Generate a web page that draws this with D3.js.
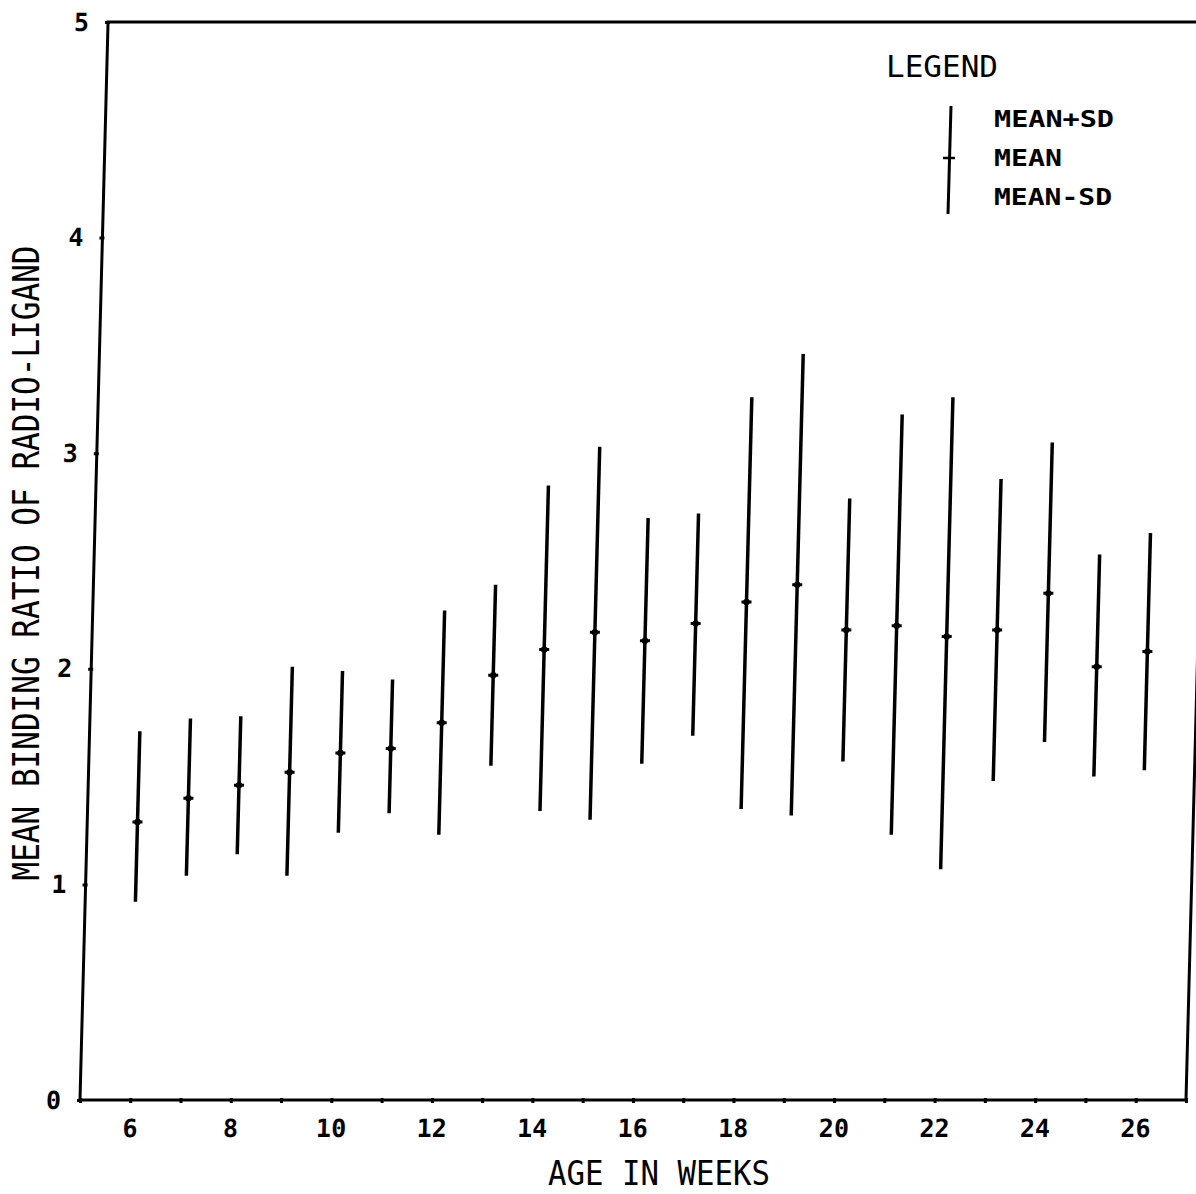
<!DOCTYPE html>
<html>
<head>
<meta charset="utf-8">
<script src="https://cdn.jsdelivr.net/npm/d3@7"></script>
<style>
  body { margin: 0; background: #fff; }
  text { font-family: "DejaVu Sans Mono", monospace; fill: #000; }
</style>
</head>
<body>
<div id="chart"></div>
<script>
// data (age in weeks, mean and mean +/- SD)
var weeks = [6, 7, 8, 9, 10, 11, 12, 13, 14, 15, 16, 17, 18, 19, 20, 21, 22, 23, 24, 25, 26];
var meanVals  = [1.29, 1.40, 1.46, 1.52, 1.61, 1.63, 1.75, 1.97, 2.09, 2.17, 2.13, 2.21, 2.31, 2.39, 2.18, 2.20, 2.15, 2.18, 2.35, 2.01, 2.08];
var upperVals = [1.71, 1.77, 1.78, 2.01, 1.99, 1.95, 2.27, 2.39, 2.85, 3.03, 2.70, 2.72, 3.26, 3.46, 2.79, 3.18, 3.26, 2.88, 3.05, 2.53, 2.63];
var lowerVals = [0.92, 1.04, 1.14, 1.04, 1.24, 1.33, 1.23, 1.55, 1.34, 1.30, 1.56, 1.69, 1.35, 1.32, 1.57, 1.23, 1.07, 1.48, 1.66, 1.50, 1.53];

var xTicks = [5, 6, 7, 8, 9, 10, 11, 12, 13, 14, 15, 16, 17, 18, 19, 20, 21, 22, 23, 24, 25, 26, 27];
var xLabels = [6, 8, 10, 12, 14, 16, 18, 20, 22, 24, 26];
var yTicks = [0, 1, 2, 3, 4, 5];

var legendItems = ["MEAN+SD", "MEAN", "MEAN-SD"];

var width = 1196, height = 1194;

var svg = d3.select("#chart").append("svg")
    .attr("width", width)
    .attr("height", height);

// set the ranges
var x = d3.scaleLinear().domain([5, 27]).range([80, 1186]);
var y = d3.scaleLinear().domain([0, 5]).range([1100, 22]);

// the scanned plot leans a little, skew around the bottom axis
var plot = svg.append("g")
    .attr("transform", "translate(0," + y(0) + ") skewX(-1.49) translate(0," + (-y(0)) + ")");

// frame
plot.append("rect")
    .attr("x", x(5))
    .attr("y", y(5))
    .attr("width", x(27) - x(5))
    .attr("height", y(0) - y(5))
    .attr("fill", "none")
    .attr("stroke", "#000")
    .attr("stroke-width", 3);

// x axis
var xAxis = plot.append("g")
    .attr("transform", "translate(0," + (y(0) + 2) + ")")
    .call(d3.axisBottom(x)
        .tickValues(xTicks)
        .tickSize(5)
        .tickPadding(12)
        .tickFormat(function(d) { return xLabels.indexOf(d) >= 0 ? d : ""; }));
xAxis.select(".domain").remove();
xAxis.selectAll(".tick line").attr("stroke-width", 3).attr("transform", "translate(0,-4)");
xAxis.selectAll(".tick text")
    .style("font-family", "DejaVu Sans Mono")
    .style("font-size", "25px")
    .style("font-weight", "bold");

// y axis
var yAxis = plot.append("g")
    .attr("transform", "translate(" + (x(5) + 2) + ",0)")
    .call(d3.axisLeft(y)
        .tickValues(yTicks)
        .tickSize(5)
        .tickPadding(16)
        .tickFormat(d3.format("d")));
yAxis.select(".domain").remove();
yAxis.selectAll(".tick line").attr("stroke-width", 3);
yAxis.selectAll(".tick text")
    .style("font-family", "DejaVu Sans Mono")
    .style("font-size", "25px")
    .style("font-weight", "bold");

// error bars
var bars = plot.selectAll(".bar")
    .data(weeks)
    .enter().append("g")
    .attr("class", "bar");

bars.append("line")
    .attr("x1", function(d) { return x(d); })
    .attr("x2", function(d) { return x(d); })
    .attr("y1", function(d, i) { return y(upperVals[i]); })
    .attr("y2", function(d, i) { return y(lowerVals[i]); })
    .attr("stroke", "#000")
    .attr("stroke-width", 3.5);

bars.append("line")
    .attr("x1", function(d) { return x(d) - 5; })
    .attr("x2", function(d) { return x(d) + 5; })
    .attr("y1", function(d, i) { return y(meanVals[i]); })
    .attr("y2", function(d, i) { return y(meanVals[i]); })
    .attr("stroke", "#000")
    .attr("stroke-width", 3);

bars.append("circle")
    .attr("cx", function(d) { return x(d); })
    .attr("cy", function(d, i) { return y(meanVals[i]); })
    .attr("r", 3.2)
    .attr("fill", "#000");

// axis titles
svg.append("text")
    .attr("x", 659)
    .attr("y", 1185)
    .attr("text-anchor", "middle")
    .attr("textLength", 222)
    .attr("lengthAdjust", "spacingAndGlyphs")
    .style("font-size", "34px")
    .text("AGE IN WEEKS");

svg.append("text")
    .attr("transform", "translate(39,563) rotate(-90)")
    .attr("text-anchor", "middle")
    .attr("textLength", 635)
    .attr("lengthAdjust", "spacingAndGlyphs")
    .style("font-size", "37px")
    .text("MEAN BINDING RATIO OF RADIO-LIGAND");

// legend
var legend = svg.append("g");

legend.append("text")
    .attr("x", 886)
    .attr("y", 77)
    .attr("textLength", 112)
    .attr("lengthAdjust", "spacingAndGlyphs")
    .style("font-size", "30px")
    .text("LEGEND");

legend.append("line")
    .attr("x1", 951).attr("x2", 948)
    .attr("y1", 106).attr("y2", 214)
    .attr("stroke", "#000")
    .attr("stroke-width", 3);

legend.append("line")
    .attr("x1", 943).attr("x2", 955)
    .attr("y1", 158).attr("y2", 158)
    .attr("stroke", "#000")
    .attr("stroke-width", 2.5);

var legendLen = [120, 68, 118];
legend.selectAll(".item")
    .data(legendItems)
    .enter().append("text")
    .attr("class", "item")
    .attr("x", 994)
    .attr("y", function(d, i) { return 127 + i * 39; })
    .attr("textLength", function(d, i) { return legendLen[i]; })
    .attr("lengthAdjust", "spacingAndGlyphs")
    .style("font-size", "23px")
    .style("font-weight", "bold")
    .text(function(d) { return d; });
</script>
</body>
</html>
